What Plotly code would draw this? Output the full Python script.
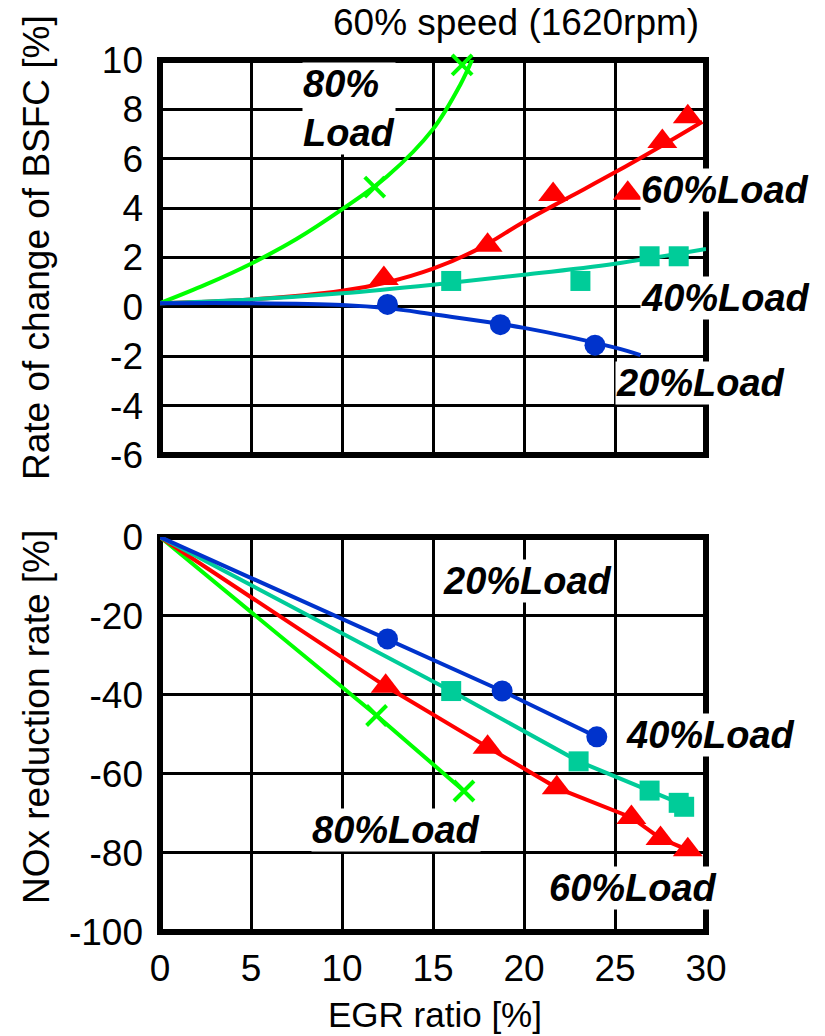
import plotly.graph_objects as go
from plotly.subplots import make_subplots

# ---------------- data (top: BSFC change) ----------------
egr_curve_80 = [0, 2.5, 5, 7.5, 10, 12.5, 15, 16.5, 17.2]
bsfc_curve_80 = [0.15, 0.9, 1.75, 2.75, 3.95, 5.3, 7.2, 9.0, 10.1]
egr_pts_80 = [11.8, 16.6]
bsfc_pts_80 = [4.85, 9.8]

egr_curve_60 = [0, 5, 10, 12.5, 15, 17.5, 20, 22.5, 25, 27.5, 29.8]
bsfc_curve_60 = [0.15, 0.3, 0.65, 1.0, 1.55, 2.35, 3.45, 4.45, 5.45, 6.5, 7.5]
egr_pts_60 = [12.3, 18.0, 21.6, 25.7, 27.6, 29.0]
bsfc_pts_60 = [1.15, 2.5, 4.55, 4.6, 6.7, 7.7]

egr_curve_40 = [0, 5, 10, 15, 20, 25, 30]
bsfc_curve_40 = [0.15, 0.3, 0.55, 0.9, 1.3, 1.75, 2.35]
egr_pts_40 = [16.0, 23.1, 26.9, 28.5]
bsfc_pts_40 = [1.05, 1.05, 2.05, 2.05]

egr_curve_20 = [0, 5, 10, 12.5, 15, 20, 25, 26.4]
bsfc_curve_20 = [0.15, 0.15, 0.08, -0.05, -0.3, -0.85, -1.65, -1.95]
egr_pts_20 = [12.5, 18.7, 23.9]
bsfc_pts_20 = [0.1, -0.72, -1.55]

# ---------------- data (bottom: NOx reduction; lines start at origin) ----------------
origin_egr = 0
origin_nox = 0
egr_nox_20 = [12.5, 18.8, 24.0]
nox_20 = [-25.8, -39.0, -50.6]
egr_nox_40 = [16.0, 23.0, 26.9, 28.5, 28.8]
nox_40 = [-39.0, -56.8, -64.2, -67.3, -68.3]
egr_nox_60 = [12.4, 18.0, 21.8, 25.9, 27.5, 29.0]
nox_60 = [-37.8, -53.2, -63.5, -71.0, -76.3, -79.2]
egr_nox_80 = [11.9, 16.7]
nox_80 = [-45.2, -64.3]

x_ticks = [0, 5, 10, 15, 20, 25, 30]
top_ticks = [-6, -4, -2, 0, 2, 4, 6, 8, 10]
bot_ticks = [-100, -80, -60, -40, -20, 0]

GREEN = "#00ff00"
RED = "#ff0000"
TEAL = "#00cc99"
BLUE = "#0033cc"
FONT = "Liberation Sans, Arial, sans-serif"

fig = make_subplots(rows=2, cols=1)


def curve(x, y, color, row):
    fig.add_trace(go.Scatter(x=x, y=y, mode="lines",
                             line=dict(color=color, width=4, shape="spline", smoothing=1.0),
                             showlegend=False, hoverinfo="skip"), row=row, col=1)


def pts(x, y, color, symbol, size, row):
    marker = dict(color=color, symbol=symbol, size=size)
    if symbol == "x-thin":
        marker["line"] = dict(color=color, width=4)
    fig.add_trace(go.Scatter(x=x, y=y, mode="markers", marker=marker, cliponaxis=False,
                             showlegend=False, hoverinfo="skip"), row=row, col=1)


def polyline(x, y, color, row):
    fig.add_trace(go.Scatter(x=[origin_egr] + x, y=[origin_nox] + y, mode="lines",
                             line=dict(color=color, width=4), showlegend=False, hoverinfo="skip"),
                  row=row, col=1)


# top
curve(egr_curve_80, bsfc_curve_80, GREEN, 1)
curve(egr_curve_60, bsfc_curve_60, RED, 1)
curve(egr_curve_40, bsfc_curve_40, TEAL, 1)
curve(egr_curve_20, bsfc_curve_20, BLUE, 1)
pts(egr_pts_80, bsfc_pts_80, GREEN, "x-thin", 20, 1)
pts(egr_pts_60, bsfc_pts_60, RED, "triangle-up", 26, 1)
pts(egr_pts_40, bsfc_pts_40, TEAL, "square", 20, 1)
pts(egr_pts_20, bsfc_pts_20, BLUE, "circle", 21, 1)

# bottom
polyline(egr_nox_80, nox_80, GREEN, 2)
polyline(egr_nox_60, nox_60, RED, 2)
polyline(egr_nox_40, nox_40, TEAL, 2)
polyline(egr_nox_20, nox_20, BLUE, 2)
pts(egr_nox_80, nox_80, GREEN, "x-thin", 20, 2)
pts(egr_nox_60, nox_60, RED, "triangle-up", 26, 2)
pts(egr_nox_40, nox_40, TEAL, "square", 20, 2)
pts(egr_nox_20, nox_20, BLUE, "circle", 21, 2)

tick_font = dict(family=FONT, size=37, color="black")
axis_common = dict(showgrid=True, gridcolor="black", gridwidth=2.5, showline=False, zeroline=False,
                   ticks="", tickfont=tick_font)

fig.update_xaxes(range=[0, 30], tickvals=x_ticks, ticktext=[str(v) for v in x_ticks], **axis_common)
fig.update_xaxes(showticklabels=False, row=1, col=1)
fig.update_xaxes(ticklabelstandoff=11, row=2, col=1)
fig.update_yaxes(range=[-6, 10], tickvals=top_ticks, ticktext=[str(v) for v in top_ticks],
                 ticklabelstandoff=16, row=1, col=1, **axis_common)
fig.update_yaxes(range=[-100, 0], tickvals=bot_ticks, ticktext=[str(v) for v in bot_ticks],
                 ticklabelstandoff=16, row=2, col=1, **axis_common)

fig.update_layout(
    width=825, height=1036,
    margin=dict(l=160, r=119, t=60, b=104),
    plot_bgcolor="white", paper_bgcolor="white",
    font=dict(family=FONT, color="black"),
    yaxis=dict(domain=[0.547, 1.0]),
    yaxis2=dict(domain=[0.0, 0.453]),
)

# thick frames around both panels
for xr, yr in (("x domain", "y domain"), ("x2 domain", "y2 domain")):
    fig.add_shape(type="rect", xref=xr, yref=yr, x0=0, x1=1, y0=0, y1=1,
                  line=dict(color="black", width=6), layer="below")

ann_font = dict(family=FONT, size=38, color="black")


def label(text, x, y, xanchor="center", align="center"):
    fig.add_annotation(text=f"<b><i>{text}</i></b>", x=x, y=y, xref="paper", yref="paper", showarrow=False,
                       font=ann_font, bgcolor="white", xanchor=xanchor, yanchor="middle", align=align,
                       borderpad=0)


def px_x(px):
    return (px - 160) / 546


def px_y(py):
    return (932 - py) / 872


label("80%<br>Load", px_x(302), px_y(108), xanchor="left", align="left")
label("60%Load", px_x(725), px_y(190))
label("40%Load", px_x(725), px_y(298))
label("20%Load", px_x(700), px_y(383))
label("20%Load", px_x(527), px_y(581))
label("40%Load", px_x(710), px_y(735))
label("80%Load", px_x(396), px_y(830))
label("60%Load", px_x(633), px_y(888))

fig.add_annotation(text="60% speed (1620rpm)", x=px_x(516), y=px_y(23), xref="paper", yref="paper",
                   showarrow=False, font=dict(family=FONT, size=37, color="black"),
                   xanchor="center", yanchor="middle")
fig.add_annotation(text="Rate of change of BSFC [%]", x=px_x(36), y=px_y(248), xref="paper",
                   yref="paper", showarrow=False, textangle=-90, font=dict(family=FONT, size=37, color="black"),
                   xanchor="center", yanchor="middle")
fig.add_annotation(text="NOx reduction rate [%]", x=px_x(36), y=px_y(717), xref="paper",
                   yref="paper", showarrow=False, textangle=-90, font=dict(family=FONT, size=37, color="black"),
                   xanchor="center", yanchor="middle")
fig.add_annotation(text="EGR ratio [%]", x=px_x(435), y=px_y(1014), xref="paper", yref="paper",
                   showarrow=False, font=dict(family=FONT, size=35, color="black"), xanchor="center",
                   yanchor="middle")

fig.write_html("out.html", config={"displayModeBar": False},
               post_script="document.body.style.margin='0px';document.body.style.overflow='hidden';")
